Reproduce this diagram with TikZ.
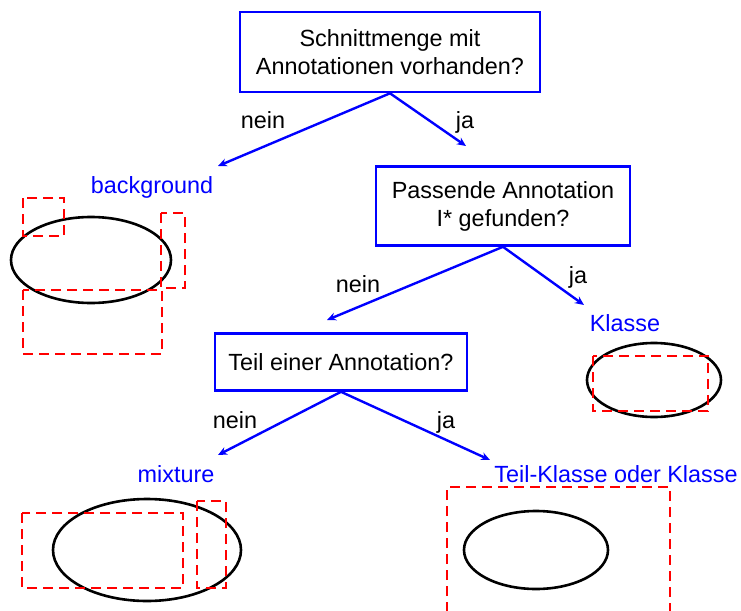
\documentclass[tikz,border=0pt]{standalone}
\usepackage{fontspec}
\setmainfont{Liberation Sans}
\usetikzlibrary{arrows.meta}
\definecolor{fblue}{RGB}{0,0,255}
\definecolor{fred}{RGB}{255,0,0}
\tikzset{
  schrift/.style={font=\fontsize{23.4}{28}\selectfont},
  frage/.style={schrift, draw=fblue, line width=2.6pt, align=center, inner sep=0pt},
  blatt/.style={schrift, text=fblue, inner sep=0pt, anchor=base},
  antwort/.style={schrift, inner sep=0pt, anchor=base},
  pfeil/.style={draw=fblue, line width=2.4pt, -{Stealth[length=9pt,width=8pt]}},
  kasten/.style={draw=fred, line width=2.7pt, dash pattern=on 10pt off 6pt},
  menge/.style={draw=black, line width=2.6pt},
}
\begin{document}
\begin{tikzpicture}[x=1pt,y=-1pt]
\useasboundingbox (0,0) rectangle (741,610);
% Entscheidungen
\node[frage, minimum width=300, minimum height=80] (q1) at (390,52) {Schnittmenge mit\\Annotationen vorhanden?};
\node[frage, minimum width=254, minimum height=79] (q2) at (503,206) {Passende Annotation\\I* gefunden?};
\node[frage, minimum width=252, minimum height=57] (q3) at (341,362) {Teil einer Annotation?};
% Ergebnisse
\node[blatt] (bg) at (152,193) {background};
\node[blatt] (kl) at (625,331) {Klasse};
\node[blatt] (mx) at (176,482) {mixture};
\node[blatt] (tk) at (616,482) {Teil-Klasse oder Klasse};
% Pfeilenden
\coordinate (e1) at (218,166);
\coordinate (e2) at (466,146);
\coordinate (e3) at (327,320);
\coordinate (e4) at (584,305);
\coordinate (e5) at (218,455);
\coordinate (e6) at (490,460);
\path[pfeil] (q1.south) -- (e1);
\path[pfeil] (q1.south) -- (e2);
\path[pfeil] (q2.south) -- (e3);
\path[pfeil] (q2.south) -- (e4);
\path[pfeil] (q3.south) -- (e5);
\path[pfeil] (q3.south) -- (e6);
\node[antwort] (n1) at (263,128) {nein};
\node[antwort] (j1) at (465,128) {ja};
\node[antwort] (n2) at (358,292) {nein};
\node[antwort] (j2) at (578,283) {ja};
\node[antwort] (n3) at (235,428) {nein};
\node[antwort] (j3) at (446,428) {ja};
% Skizzen
\draw[menge] (91,260) ellipse [x radius=80, y radius=43];
\draw[kasten] (23,198) rectangle (64,236);
\draw[kasten] (161,213) rectangle (185,288);
\draw[kasten] (23,290) rectangle (162,354);
\draw[menge] (654,380) ellipse [x radius=67, y radius=37];
\draw[kasten] (593,356) rectangle (708,411);
\draw[menge] (147,550) ellipse [x radius=94, y radius=51];
\draw[kasten] (22,513) rectangle (183,588);
\draw[kasten] (197,501) rectangle (226,588);
\draw[menge] (536,550) ellipse [x radius=72, y radius=39];
\draw[kasten] (447,612) -- (447,487) -- (670,487) -- (670,612);
\end{tikzpicture}
\end{document}
